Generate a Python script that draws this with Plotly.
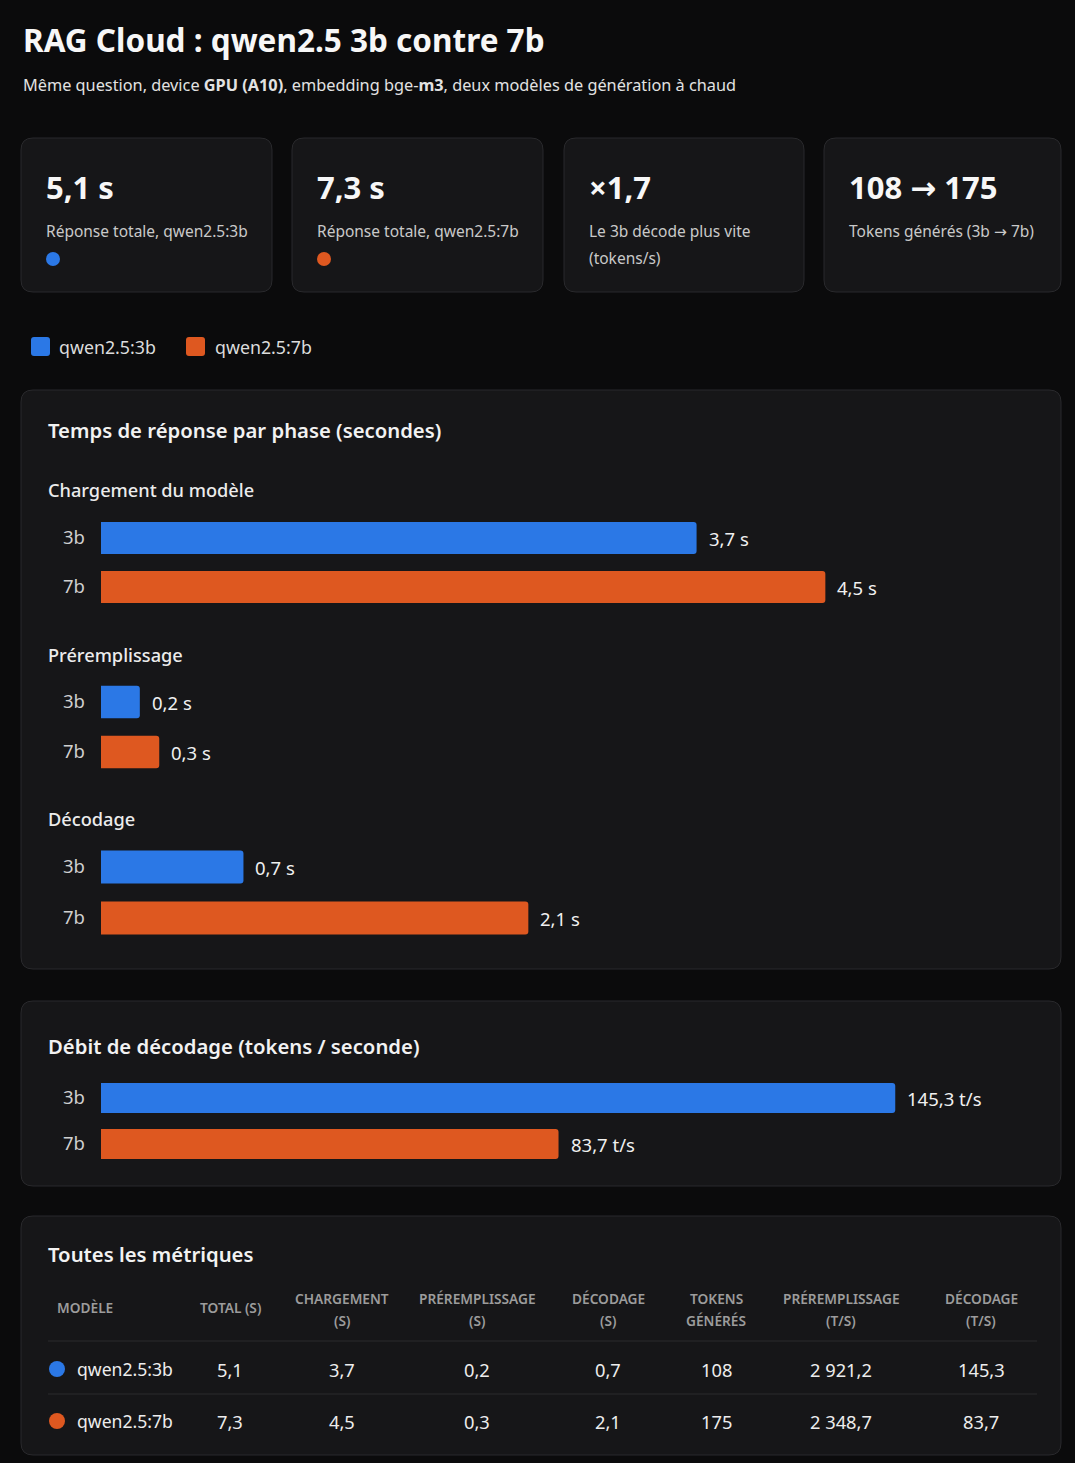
import plotly.graph_objects as go

# ---------------- data ----------------
models = ["qwen2.5:3b", "qwen2.5:7b"]
short_names = ["3b", "7b"]
total_s = [5.1, 7.3]
load_s = [3.7, 4.5]
prefill_s = [0.2, 0.3]
decode_s = [0.7, 2.1]
tokens = [108, 175]
prefill_tps = [2921.2, 2348.7]
decode_tps = [145.3, 83.7]
phase_names = ["Chargement du modèle", "Préremplissage", "Décodage"]
table_headers = [["MODÈLE"], ["TOTAL (S)"], ["CHARGEMENT", "(S)"], ["PRÉREMPLISSAGE", "(S)"],
                 ["DÉCODAGE", "(S)"], ["TOKENS", "GÉNÉRÉS"], ["PRÉREMPLISSAGE", "(T/S)"],
                 ["DÉCODAGE", "(T/S)"]]

# ---------------- style ----------------
W, H = 1075, 1463
FONT = "Noto Sans"
BG = "#0b0b0c"
CARD = "#161618"
BORDER = "#29292c"
COLORS = ["#2B78E6", "#DE5820"]
ARROW = '<span style="font-family:DejaVu Sans">→</span>'


def X(x):
    return x / W


def Y(y):
    return 1 - y / H


def fr(v, d=1):
    s = f"{v:,.{d}f}"
    return s.replace(",", " ").replace(".", ",")


def rrect(x0, y0, x1, y1, r):
    p = [
        f"M{X(x0 + r)},{Y(y0)}", f"L{X(x1 - r)},{Y(y0)}", f"Q{X(x1)},{Y(y0)} {X(x1)},{Y(y0 + r)}",
        f"L{X(x1)},{Y(y1 - r)}", f"Q{X(x1)},{Y(y1)} {X(x1 - r)},{Y(y1)}",
        f"L{X(x0 + r)},{Y(y1)}", f"Q{X(x0)},{Y(y1)} {X(x0)},{Y(y1 - r)}",
        f"L{X(x0)},{Y(y0 + r)}", f"Q{X(x0)},{Y(y0)} {X(x0 + r)},{Y(y0)}", "Z",
    ]
    return " ".join(p)


shapes = []
annotations = []


def card(x0, y0, x1, y1, r=12, fill=CARD, line=BORDER):
    shapes.append(dict(type="path", path=rrect(x0, y0, x1, y1, r), xref="paper", yref="paper",
                       fillcolor=fill, line=dict(color=line, width=1), layer="below"))


def text(x, y, s, size, color="#e6e6e6", weight=400, xanchor="left"):
    if xanchor == "left":
        x -= 2  # compensate side bearing of the font
    annotations.append(dict(x=X(x), y=Y(y), xref="paper", yref="paper", text=s, showarrow=False,
                            xanchor=xanchor, yanchor="middle",
                            font=dict(family=FONT, size=size, color=color, weight=weight)))


def dot(cx, cy, r, color):
    shapes.append(dict(type="circle", xref="paper", yref="paper", x0=X(cx - r), x1=X(cx + r),
                       y0=Y(cy + r), y1=Y(cy - r), fillcolor=color, line=dict(width=0), layer="above"))


# ---------------- header ----------------
text(23, 40, "RAG Cloud : qwen2.5 3b contre 7b", 31.5, "#f7f7f7", 700)
text(23, 85, "Même question, device <b>GPU (A10)</b>, embedding bge-<b>m3</b>, deux modèles de génération à chaud",
     16.3, "#e2e2e2")

# ---------------- KPI cards ----------------
ratio = decode_tps[0] / decode_tps[1]
kpis = [
    ((21, 138, 272, 292), fr(total_s[0]) + " s", [f"Réponse totale, {models[0]}"], COLORS[0]),
    ((292, 138, 543, 292), fr(total_s[1]) + " s", [f"Réponse totale, {models[1]}"], COLORS[1]),
    ((564, 138, 804, 292), "×" + fr(ratio), ["Le 3b décode plus vite", "(tokens/s)"], None),
    ((824, 138, 1061, 292), f"{tokens[0]} {ARROW} {tokens[1]}", [f"Tokens générés (3b {ARROW} 7b)"], None),
]
for (x0, y0, x1, y1), val, labels, col in kpis:
    card(x0, y0, x1, y1)
    text(x0 + 25, 187, val, 31, "#f7f7f7", 700)
    for i, lab in enumerate(labels):
        text(x0 + 25, 231 + 27 * i, lab, 15.5, "#c9c9c9")
    if col:
        dot(x0 + 32, 259, 7, col)

# ---------------- legend ----------------
for (sx, tx), name, col in zip([(31, 59), (186, 215)], models, COLORS):
    shapes.append(dict(type="path", path=rrect(sx, 337, sx + 19, 356, 3), xref="paper", yref="paper",
                       fillcolor=col, line=dict(width=0)))
    text(tx, 347, name, 17.8, "#dcdcdc")

# ---------------- panels ----------------
card(21, 390, 1061, 969)
text(48, 430, "Temps de réponse par phase (secondes)", 20.3, "#f2f2f2", 600)
card(21, 1001, 1061, 1186)
text(48, 1046, "Débit de décodage (tokens / seconde)", 20.3, "#f2f2f2", 600)
card(21, 1216, 1061, 1455)
text(48, 1254, "Toutes les métriques", 20.3, "#f2f2f2", 600)

fig = go.Figure()

bar_x0, bar_x1 = 101, 1033
# (values, label y, bar centers, axis max, unit, bar width)
groups = [
    (load_s, 490, (538, 587), 5.79, " s", 0.65),
    (prefill_s, 655, (702, 752), 4.8, " s", 0.65),
    (decode_s, 819, (867, 918), 4.58, " s", 0.65),
    (decode_tps, None, (1098, 1144), 170.5, " t/s", 0.65),
]
layout_axes = {}
for i, (vals, label_y, (c0, c1), rmax, unit, bw) in enumerate(groups):
    n = i + 1
    xa = "x" if n == 1 else f"x{n}"
    ya = "y" if n == 1 else f"y{n}"
    if label_y is not None:
        text(48, label_y, phase_names[i], 18.2, "#ececec", 500)
    step = c1 - c0
    top, bot = c0 - step / 2, c1 + step / 2
    fig.add_trace(go.Bar(
        x=vals, y=short_names, orientation="h", width=bw,
        marker=dict(color=COLORS, line=dict(width=0)),
        xaxis=xa, yaxis=ya, showlegend=False, hoverinfo="skip",
    ))
    for j, v in enumerate(vals):
        annotations.append(dict(x=v, y=j, xref=xa, yref=ya, text=fr(v) + unit, showarrow=False,
                                xanchor="left", yanchor="middle", xshift=10,
                                font=dict(family=FONT, size=18.5, color="#f0f0f0")))
    kx = "xaxis" if n == 1 else f"xaxis{n}"
    ky = "yaxis" if n == 1 else f"yaxis{n}"
    layout_axes[kx] = dict(domain=[X(bar_x0), X(bar_x1)], range=[0, rmax], visible=False,
                           anchor=ya, fixedrange=True)
    layout_axes[ky] = dict(domain=[Y(bot), Y(top)], type="category", categoryorder="array",
                           categoryarray=short_names, range=[1.5, -0.5], showgrid=False,
                           zeroline=False, showline=False, ticks="", ticklabelstandoff=15,
                           tickfont=dict(family=FONT, size=18.5, color="#cfcfcf"),
                           anchor=xa, fixedrange=True)

# ---------------- table ----------------
col_x = [57, 230, 342, 477, 608, 716, 841, 981]
for k, (cx, hdr) in enumerate(zip(col_x, table_headers)):
    anchor = "left" if k == 0 else "center"
    if len(hdr) == 1:
        text(cx, 1307, hdr[0], 13.7, "#9c9c9c", 600, anchor)
    else:
        text(cx, 1298, hdr[0], 13.7, "#9c9c9c", 600, anchor)
        text(cx, 1320, hdr[1], 13.7, "#9c9c9c", 600, anchor)

for ly in (1341, 1394):
    shapes.append(dict(type="line", xref="paper", yref="paper", x0=X(48), x1=X(1037), y0=Y(ly), y1=Y(ly),
                       line=dict(color="#2a2a2d", width=1)))

for r in range(2):
    ry = 1369 + 52 * r
    dot(57, ry, 8, COLORS[r])
    text(77, ry, models[r], 17.6, "#ededed")
    cells = [fr(total_s[r]), fr(load_s[r]), fr(prefill_s[r]), fr(decode_s[r]), str(tokens[r]),
             fr(prefill_tps[r]), fr(decode_tps[r])]
    for cx, c in zip(col_x[1:], cells):
        text(cx, ry, c, 18.3, "#ededed", 400, "center")

fig.update_layout(
    width=W, height=H, margin=dict(l=0, r=0, t=0, b=0),
    paper_bgcolor=BG, plot_bgcolor="rgba(0,0,0,0)",
    font=dict(family=FONT, color="#e6e6e6"),
    barcornerradius=3,
    shapes=shapes, annotations=annotations,
    **layout_axes,
)

fig.write_html("out.html", config={"displayModeBar": False})
